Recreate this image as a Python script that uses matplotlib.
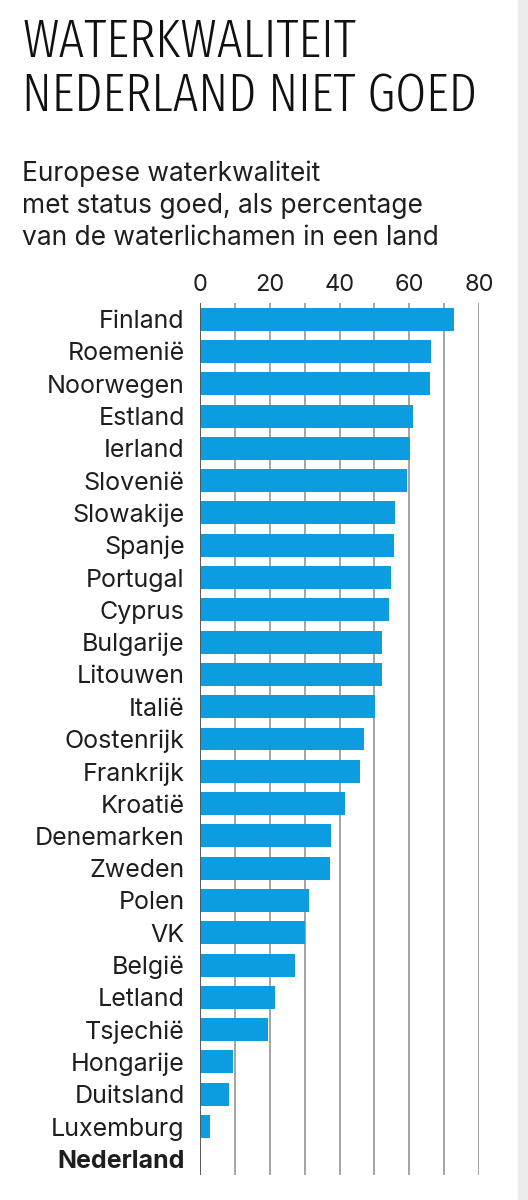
import matplotlib
matplotlib.use("Agg")
import matplotlib.pyplot as plt
from matplotlib import font_manager
from matplotlib.patches import Rectangle

countries = ["Finland", "Roemenië", "Noorwegen", "Estland", "Ierland", "Slovenië",
             "Slowakije", "Spanje", "Portugal", "Cyprus", "Bulgarije", "Litouwen",
             "Italië", "Oostenrijk", "Frankrijk", "Kroatië", "Denemarken", "Zweden",
             "Polen", "VK", "België", "Letland", "Tsjechië", "Hongarije", "Duitsland",
             "Luxemburg", "Nederland"]
values = [72.8, 66.1, 65.9, 61.1, 60.3, 59.4,
          56.0, 55.7, 54.7, 54.1, 52.1, 52.1,
          50.3, 47.1, 45.8, 41.5, 37.7, 37.4,
          31.3, 30.1, 27.3, 21.4, 19.6, 9.5, 8.4,
          2.9, 0.0]
major_ticks = [0, 20, 40, 60, 80]
minor_ticks = [10, 30, 50, 70]

title_lines = ["WATERKWALITEIT", "NEDERLAND NIET GOED"]
subtitle_lines = ["Europese waterkwaliteit",
                  "met status goed, als percentage",
                  "van de waterlichamen in een land"]

BLUE = "#0b9de0"
GRID = "#8c8c8c"
TEXT = "#1e1e1e"

names = {f.name for f in font_manager.fontManager.ttflist}
body_font = "Inter" if "Inter" in names else "DejaVu Sans"
plt.rcParams["font.family"] = [body_font, "DejaVu Sans"]


def weight_num(w):
    if isinstance(w, int):
        return w
    return {"light": 300, "normal": 400, "regular": 400, "book": 400,
            "medium": 500}.get(str(w), 700)


# narrowest light-ish font for the headline, if one is installed
best = None
for f in font_manager.fontManager.ttflist:
    if f.style != "normal" or "Mono" in f.name:
        continue
    st = str(f.stretch)
    label = f.name + " " + f.fname
    if "ExtraCondensed" in label or "Extra Condensed" in label or st in ("extra-condensed", "ultra-condensed"):
        score = 0
    elif "Condensed" in label or "Narrow" in label or st in ("condensed", "semi-condensed"):
        score = 10
    else:
        continue
    wn = weight_num(f.weight)
    if wn > 500 or wn < 300:
        continue
    score += abs(wn - 300) / 100
    if best is None or score < best[0]:
        best = (score, f.fname)
if best:
    title_fp = font_manager.FontProperties(fname=best[1])
else:
    title_fp = font_manager.FontProperties(family="Liberation Sans")

fig = plt.figure(figsize=(5.28, 12), dpi=100)
fig.patches.append(Rectangle((0.981, 0), 0.019, 1, transform=fig.transFigure,
                             color="#ececec", zorder=0))

ax = fig.add_axes([200 / 528, 1 - 1175 / 1200, 279 / 528, (1175 - 303) / 1200])
y = list(range(len(countries)))
ax.barh(y, values, height=0.71, color=BLUE, zorder=2)
ax.set_xlim(0, 80)
ax.set_ylim(len(countries) - 0.5, -0.5)

ax.xaxis.tick_top()
ax.set_xticks(major_ticks)
ax.set_xticks(minor_ticks, minor=True)
ax.set_xticklabels([str(t) for t in major_ticks])
ax.grid(axis="x", which="both", color=GRID, lw=1.1)
ax.set_axisbelow(True)
ax.axvline(0, color="#555555", lw=1.3, zorder=3)
ax.tick_params(axis="x", which="both", length=0, pad=5, labelsize=17, labelcolor=TEXT)
ax.set_yticks(y)
ax.set_yticklabels(countries)
ax.tick_params(axis="y", length=0, pad=11, labelsize=18, labelcolor=TEXT)
ax.get_yticklabels()[-1].set_fontweight("bold")
for s in ax.spines.values():
    s.set_visible(False)

# headline: aim at the 42 px cap height, but keep line 2 within ~455 px
t1 = fig.text(22 / 528, 1 - 57 / 1200, title_lines[0], fontproperties=title_fp,
              fontsize=40, color="#111111", va="baseline")
t2 = fig.text(22 / 528, 1 - 112 / 1200, title_lines[1], fontproperties=title_fp,
              fontsize=40, color="#111111", va="baseline")
r = fig.canvas.get_renderer()
w = t2.get_window_extent(r).width
size = min(40 * 455 / w, 42)
t1.set_fontsize(size)
t2.set_fontsize(size)

for i, line in enumerate(subtitle_lines):
    fig.text(22 / 528, 1 - (181 + 32 * i) / 1200, line, fontsize=19,
             color=TEXT, va="baseline")

fig.savefig("out.png", dpi=100)
